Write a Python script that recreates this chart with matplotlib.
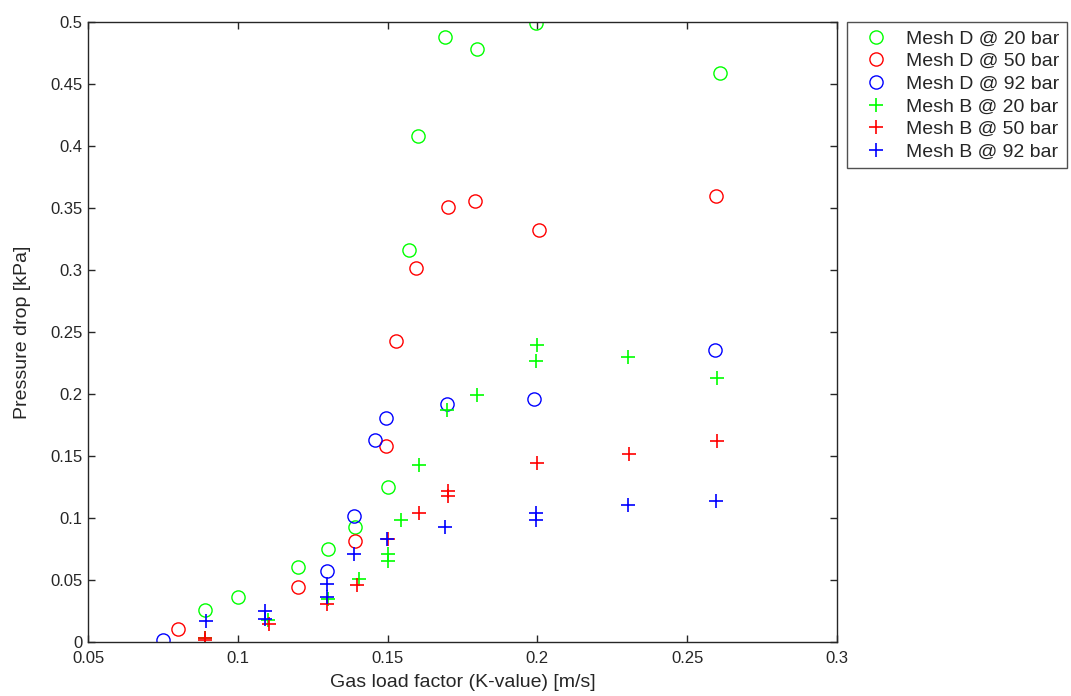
import numpy as np
import matplotlib
matplotlib.use('Agg')
import matplotlib.pyplot as plt

# Mesh D (circles)
vecXD20 = [0.089, 0.100, 0.120, 0.130, 0.139, 0.150, 0.157, 0.160, 0.169, 0.180, 0.1995, 0.261]
vecYD20 = [0.026, 0.037, 0.061, 0.075, 0.093, 0.125, 0.316, 0.408, 0.488, 0.478, 0.499, 0.459]

vecXD50 = [0.080, 0.120, 0.139, 0.1496, 0.1527, 0.1594, 0.1703, 0.1792, 0.2005, 0.2596]
vecYD50 = [0.011, 0.045, 0.082, 0.158, 0.243, 0.302, 0.351, 0.356, 0.332, 0.360]

vecXD92 = [0.075, 0.1297, 0.1389, 0.1459, 0.1496, 0.1699, 0.1989, 0.2592]
vecYD92 = [0.002, 0.0577, 0.102, 0.163, 0.181, 0.192, 0.196, 0.236]

# Mesh B (plus)
vecXB20 = [0.089, 0.110, 0.130, 0.1403, 0.150, 0.150, 0.1544, 0.1605, 0.1699,
           0.1797, 0.1995, 0.200, 0.2302, 0.2601]
vecYB20 = [0.004, 0.018, 0.035, 0.051, 0.071, 0.066, 0.099, 0.143, 0.187,
           0.1996, 0.227, 0.240, 0.2297, 0.213]

vecXB50 = [0.089, 0.089, 0.1103, 0.1297, 0.1399, 0.150, 0.1605, 0.1703, 0.1703,
           0.200, 0.2306, 0.2601]
vecYB50 = [0.002, 0.004, 0.015, 0.031, 0.046, 0.083, 0.104, 0.122, 0.118,
           0.145, 0.152, 0.162]

vecXB92 = [0.0894, 0.109, 0.109, 0.1297, 0.1297, 0.1389, 0.1497, 0.1693, 0.1996,
           0.1996, 0.2302, 0.2597]
vecYB92 = [0.017, 0.025, 0.019, 0.047, 0.037, 0.071, 0.083, 0.093, 0.104,
           0.099, 0.111, 0.114]

lstLbl = ['Mesh D @ 20 bar', 'Mesh D @ 50 bar', 'Mesh D @ 92 bar',
          'Mesh B @ 20 bar', 'Mesh B @ 50 bar', 'Mesh B @ 92 bar']

plt.rcParams['font.family'] = ['Liberation Sans', 'DejaVu Sans']

# Font colour (MATLAB-ish dark grey):
vecFontClr = (0.15, 0.15, 0.15)

fig01 = plt.figure(figsize=(10.71, 6.96), dpi=100)
axs = fig01.add_axes([0.0822, 0.0769, 0.6993, 0.8915])

lstSer = [(vecXD20, vecYD20, 'o', (0, 1, 0)),
          (vecXD50, vecYD50, 'o', (1, 0, 0)),
          (vecXD92, vecYD92, 'o', (0, 0, 1)),
          (vecXB20, vecYB20, '+', (0, 1, 0)),
          (vecXB50, vecYB50, '+', (1, 0, 0)),
          (vecXB92, vecYB92, '+', (0, 0, 1))]

for (vecX, vecY, strMrk, vecClr), strLbl in zip(lstSer, lstLbl):
    if strMrk == 'o':
        axs.plot(vecX, vecY, linestyle='none', marker='o', markersize=9.5,
                 markerfacecolor='none', markeredgecolor=vecClr,
                 markeredgewidth=1.0, label=strLbl)
    else:
        axs.plot(vecX, vecY, linestyle='none', marker='+', markersize=10,
                 markeredgecolor=vecClr, markeredgewidth=1.2, label=strLbl)

axs.set_xlim(0.05, 0.3)
axs.set_ylim(0.0, 0.5)
axs.set_xticks(np.arange(0.05, 0.301, 0.05))
axs.set_xticklabels(['0.05', '0.1', '0.15', '0.2', '0.25', '0.3'])
axs.set_yticks(np.arange(0.0, 0.501, 0.05))
axs.set_yticklabels(['0', '0.05', '0.1', '0.15', '0.2', '0.25', '0.3',
                     '0.35', '0.4', '0.45', '0.5'])
axs.tick_params(direction='in', top=True, right=True, length=5,
                labelsize=12, width=1.0, color=vecFontClr,
                labelcolor=vecFontClr)
axs.tick_params(axis='x', pad=6)
axs.tick_params(axis='y', pad=4)
for strSp in axs.spines:
    axs.spines[strSp].set_linewidth(1.0)
    axs.spines[strSp].set_color(vecFontClr)

axs.set_xlabel('Gas load factor (K-value) [m/s]', fontsize=14,
               color=vecFontClr)
axs.set_ylabel('Pressure drop [kPa]', fontsize=14, color=vecFontClr)
axs.xaxis.set_label_coords(0.5, -0.05)
axs.yaxis.set_label_coords(-0.076, 0.5)

objLgd = axs.legend(loc='upper left', bbox_to_anchor=(0.7906, 0.9685),
                    bbox_transform=fig01.transFigure, fontsize=14,
                    frameon=True, fancybox=False, edgecolor=vecFontClr,
                    borderpad=0.4, labelspacing=0.26, handlelength=2.2,
                    handletextpad=0.45, borderaxespad=0.0)
objLgd.get_frame().set_linewidth(1.0)
for objTxt in objLgd.get_texts():
    objTxt.set_color(vecFontClr)

fig01.savefig('out.png', dpi=100, facecolor='w')
